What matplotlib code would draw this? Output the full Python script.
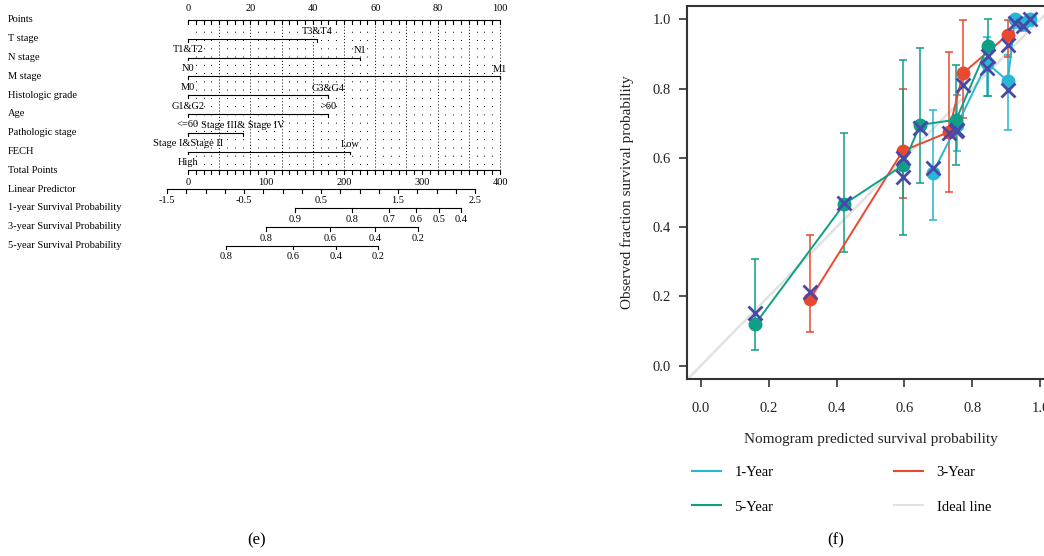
import numpy as np
import matplotlib
matplotlib.use('Agg')
from matplotlib import pyplot as plt
from matplotlib.lines import Line2D
from matplotlib.transforms import blended_transform_factory

plt.rcParams['font.family'] = ['Liberation Serif', 'DejaVu Serif']

# ---------------- nomogram (e) data ----------------
row_names = ['Points', 'T stage', 'N stage', 'M stage', 'Histologic grade', 'Age',
             'Pathologic stage', 'FECH', 'Total Points', 'Linear Predictor',
             '1-year Survival Probability', '3-year Survival Probability',
             '5-year Survival Probability']

var_low_labels = ['T1&T2', 'N0', 'M0', 'G1&G2', '<=60', 'Stage I&Stage II', 'High']
var_high_labels = ['T3&T4', 'N1', 'M1', 'G3&G4', '>60', 'Stage III& Stage IV', 'Low']
var_high_points = [41.5, 55, 100, 45, 45, 17.6, 52]

points_labels = [0, 20, 40, 60, 80, 100]
total_labels = [0, 100, 200, 300, 400]
lp_labels = [-1.5, -0.5, 0.5, 1.5, 2.5]

surv1_labels = ['0.9', '0.8', '0.7', '0.6', '0.5', '0.4']
surv1_points = [34.3, 52.7, 64.3, 73.0, 80.6, 87.5]
surv3_labels = ['0.8', '0.6', '0.4', '0.2']
surv3_points = [25.0, 45.5, 59.9, 73.7]
surv5_labels = ['0.8', '0.6', '0.4', '0.2']
surv5_points = [12.2, 33.7, 47.4, 60.9]

# ---------------- calibration (f) data ----------------
y1_pred = [0.683, 0.755, 0.843, 0.904, 0.925, 0.948, 0.968]
y1_obs = [0.556, 0.695, 0.873, 0.822, 1.0, 0.99, 1.0]
y1_lo = [0.421, 0.62, 0.777, 0.681, 0.975, 0.965, 0.98]
y1_hi = [0.738, 0.78, 0.95, 0.897, 1.0, 1.0, 1.0]
y1_corr = [0.57, 0.68, 0.86, 0.796, 0.99, 0.98, 1.0]

y3_pred = [0.322, 0.595, 0.730, 0.772, 0.904]
y3_obs = [0.192, 0.620, 0.674, 0.844, 0.955]
y3_lo = [0.099, 0.484, 0.501, 0.714, 0.892]
y3_hi = [0.378, 0.800, 0.906, 0.998, 0.998]
y3_corr = [0.214, 0.60, 0.672, 0.81, 0.926]

y5_pred = [0.161, 0.423, 0.595, 0.646, 0.752, 0.846]
y5_obs = [0.121, 0.467, 0.578, 0.695, 0.710, 0.924]
y5_lo = [0.046, 0.328, 0.378, 0.527, 0.578, 0.777]
y5_hi = [0.309, 0.671, 0.883, 0.916, 0.868, 1.0]
y5_corr = [0.152, 0.47, 0.546, 0.685, 0.676, 0.893]

c1 = '#25b7d3'
c3 = '#e8492f'
c5 = '#0f9e86'
c_x = '#4848a8'
c_ideal = '#e2e2e2'

fig = plt.figure(figsize=(10.44, 5.56), dpi=100)

# ---------------- nomogram ----------------
ax1 = fig.add_axes([0, 0, 600 / 1044, 1])
ax1.set_xlim(-188 / 3.12, (600 - 188) / 3.12)
ax1.set_ylim((556 - 20) / 18.8, -20 / 18.8)
ax1.axis('off')
fs = 7.5
lw = 0.8
tick = 0.2


def tp_to_pts(v):
    return v * 100 / 400


def lp_to_pts(v):
    # two anchor readings: -1.5 -> -6.7 pts, 2.5 -> 92.0 pts
    return -6.7 + (v + 1.5) * (92.0 + 6.7) / 4.0


lbl_tr = blended_transform_factory(ax1.transAxes, ax1.transData)
for i, name in enumerate(row_names):
    ax1.text(8 / 600, i, name, transform=lbl_tr, fontsize=fs, va='center', ha='left')

# dotted grid
for p in np.arange(2.5, 100.1, 2.5):
    if abs(p % 10) < 1e-6:
        ax1.plot([p, p], [0.15, 8], color='black', lw=0.7, ls=(0, (1, 2.2)), zorder=1)
    else:
        ax1.plot([p, p], [0.15, 8], color='black', lw=0.7, ls=(0, (1, 7.5)), zorder=1)

# points axis
ax1.plot([0, 100], [0, 0], color='black', lw=lw)
for p in np.arange(0, 100.1, 2.5):
    ax1.plot([p, p], [0, tick], color='black', lw=lw)
for p in points_labels:
    ax1.text(p, -0.6, str(p), fontsize=fs, ha='center', va='center')

# variable rows
for i in range(7):
    r = i + 1
    hp = var_high_points[i]
    ax1.plot([0, hp], [r, r], color='black', lw=lw)
    ax1.plot([0, 0], [r, r + 0.15], color='black', lw=lw)
    ax1.plot([hp, hp], [r, r + 0.15], color='black', lw=lw)
    ax1.text(0, r + 0.58, var_low_labels[i], fontsize=fs, ha='center', va='center')
    ax1.text(hp, r - 0.38, var_high_labels[i], fontsize=fs, ha='center', va='center')

# total points
r = 8
ax1.plot([0, 100], [r, r], color='black', lw=lw)
for v in np.arange(0, 401, 10):
    ax1.plot([tp_to_pts(v)] * 2, [r, r + tick], color='black', lw=lw)
for v in total_labels:
    ax1.text(tp_to_pts(v), r + 0.62, str(v), fontsize=fs, ha='center', va='center')

# linear predictor
r = 9
ax1.plot([lp_to_pts(-1.5), lp_to_pts(2.5)], [r, r], color='black', lw=lw)
for v in np.arange(-1.5, 2.51, 0.25):
    ax1.plot([lp_to_pts(v)] * 2, [r, r + tick], color='black', lw=lw)
for v in lp_labels:
    ax1.text(lp_to_pts(v), r + 0.58, f'{v:g}', fontsize=fs, ha='center', va='center')

# survival axes
for r, labs, pos in [(10, surv1_labels, surv1_points),
                     (11, surv3_labels, surv3_points),
                     (12, surv5_labels, surv5_points)]:
    ax1.plot([pos[0], pos[-1]], [r, r], color='black', lw=lw)
    for lab, p in zip(labs, pos):
        ax1.plot([p, p], [r, r + tick], color='black', lw=lw)
        ax1.text(p, r + 0.6, lab, fontsize=fs, ha='center', va='center')

# ---------------- calibration ----------------
ax2 = fig.add_axes([687 / 1044, (556 - 379) / 556, (1054 - 687) / 1044, (379 - 6) / 556])
ax2.set_xlim(-0.04, 1.04)
ax2.set_ylim(-0.038, 1.038)
ax2.plot([-0.04, 1.04], [-0.04, 1.04], color=c_ideal, lw=1.8, zorder=1)

for pred, obs, lo, hi, corr, c in [(y1_pred, y1_obs, y1_lo, y1_hi, y1_corr, c1),
                                   (y3_pred, y3_obs, y3_lo, y3_hi, y3_corr, c3),
                                   (y5_pred, y5_obs, y5_lo, y5_hi, y5_corr, c5)]:
    obs = np.array(obs)
    err = [obs - np.array(lo), np.array(hi) - obs]
    ax2.errorbar(pred, obs, yerr=err, fmt='none', ecolor=c, elinewidth=1.1,
                 capsize=3, capthick=1.1, zorder=2)
    ax2.plot(pred, obs, color=c, lw=1.4, marker='o', ms=9, zorder=3)
    ax2.plot(pred, corr, ls='none', marker='x', ms=10, mew=2, color=c_x, zorder=4)

ticks = [0.0, 0.2, 0.4, 0.6, 0.8, 1.0]
ax2.set_xticks(ticks)
ax2.set_xticklabels([f'{t:.1f}' for t in ticks])
ax2.set_yticks(ticks)
ax2.set_yticklabels([f'{t:.1f}' for t in ticks])
ax2.tick_params(axis='both', direction='out', length=5.5, width=1.2, color='#333333',
                labelsize=10.5, labelcolor='#222222')
ax2.tick_params(axis='x', pad=11)
ax2.tick_params(axis='y', pad=6)
ax2.spines['right'].set_visible(False)
for s in ['left', 'top', 'bottom']:
    ax2.spines[s].set_linewidth(1.5)
    ax2.spines[s].set_color('#333333')

ax2.set_xlabel('Nomogram predicted survival probability', fontsize=11, color='#222222')
ax2.xaxis.set_label_coords(0.5, -0.146)
ax2.set_ylabel('Observed fraction survival probability', fontsize=11, color='#222222')
ax2.yaxis.set_label_coords(-0.144, 0.5)

handles = [Line2D([], [], color=c1, lw=1.5), Line2D([], [], color=c5, lw=1.5),
           Line2D([], [], color=c3, lw=1.5), Line2D([], [], color=c_ideal, lw=1.5)]
labels = ['1-Year', '5-Year', '3-Year', 'Ideal line']
fig.legend(handles, labels, ncol=2, loc='upper left',
           bbox_to_anchor=(692 / 1044, (556 - 466) / 556), frameon=False,
           borderpad=0, borderaxespad=0, handlelength=2.0, handletextpad=0.9,
           columnspacing=8.3, labelspacing=1.45, prop={'size': 10.5})

fig.text(257 / 1044, 1 - 540 / 556, '(e)', fontsize=12, ha='center', va='center')
fig.text(836 / 1044, 1 - 540 / 556, '(f)', fontsize=12, ha='center', va='center')

fig.savefig('out.png', dpi=100)
